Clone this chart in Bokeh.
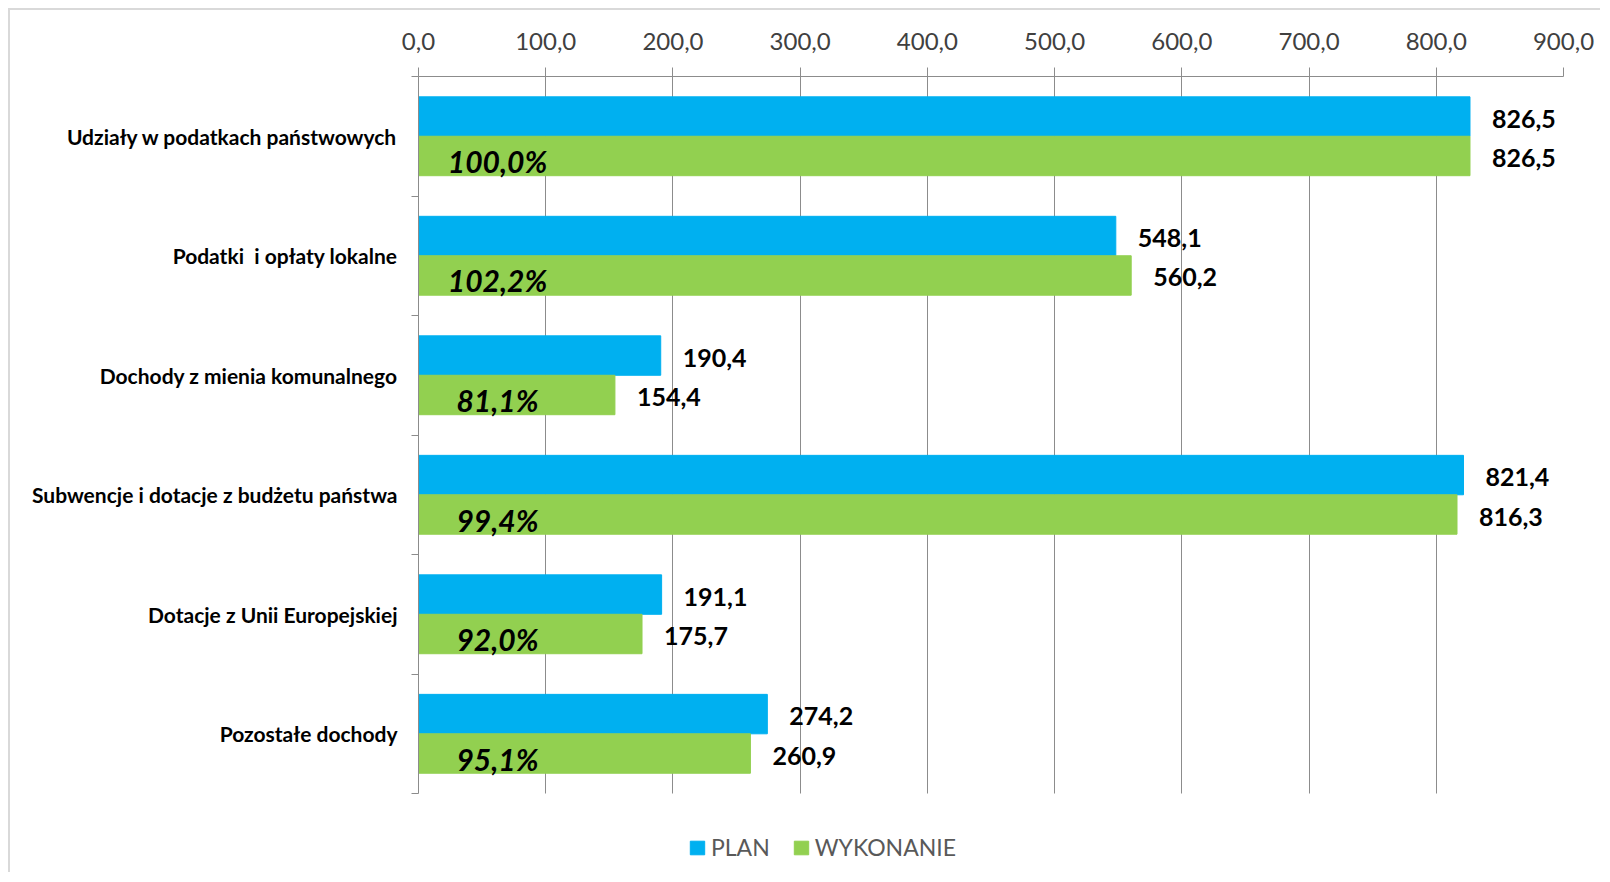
from bokeh.plotting import figure
from bokeh.models import ColumnDataSource, FixedTicker, Range1d, Legend, LegendItem
from bokeh.core.properties import value
from bokeh.transform import dodge
from bokeh.embed import file_html
from bokeh.resources import INLINE

# ---- data ----
categories = [
    "Udziały w podatkach państwowych",
    "Podatki\u00a0 i opłaty lokalne",
    "Dochody z mienia komunalnego",
    "Subwencje i dotacje z budżetu państwa",
    "Dotacje z Unii Europejskiej",
    "Pozostałe dochody",
]
plan = [826.5, 548.1, 190.4, 821.4, 191.1, 274.2]
wykonanie = [826.5, 560.2, 154.4, 816.3, 175.7, 260.9]
percent_labels = ["100,0%", "102,2%", "81,1%", "99,4%", "92,0%", "95,1%"]
x_ticks = [0, 100, 200, 300, 400, 500, 600, 700, 800, 900]
x_tick_labels = ["0,0", "100,0", "200,0", "300,0", "400,0", "500,0", "600,0", "700,0", "800,0", "900,0"]
series_names = ["PLAN", "WYKONANIE"]

# ---- styles ----
BLUE = "#00B0F0"
GREEN = "#92D050"
GRID = "#8c8c8c"
FONT = "Lato"
BAND_PX = 119.6          # pixel height of one category band
BOTTOM_PAD_PX = 81       # empty space below the last band (legend area)

def fmt(v):
    return f"{v:.1f}".replace(".", ",")

n = len(categories)
ypos = [i + 0.5 for i in range(n)]
src = ColumnDataSource(dict(
    y=ypos,
    plan=plan,
    wyk=wykonanie,
    plan_lbl=[fmt(v) for v in plan],
    wyk_lbl=[fmt(v) for v in wykonanie],
    pct=percent_labels,
))

p = figure(width=1592, height=864, output_backend="svg", toolbar_location=None,
           x_range=Range1d(0, 900), y_range=Range1d(n + BOTTOM_PAD_PX / BAND_PX, 0),
           x_axis_location="above",
           min_border_left=408, min_border_top=66, min_border_right=39, min_border_bottom=0)
p.styles = {"margin-top": "8px", "margin-left": "8px",
            "border-top": "2px solid #d9d9d9", "border-left": "2px solid #d9d9d9"}
p.outline_line_color = None
p.background_fill_color = "white"
p.border_fill_color = "white"

# vertical grid lines limited to the category bands
if "cross_bounds" in p.xgrid[0].properties():
    p.xgrid.ticker = FixedTicker(ticks=x_ticks)
    p.xgrid.cross_bounds = (0, n)
    p.xgrid.grid_line_color = GRID
else:
    p.xgrid.grid_line_color = None
    grid_src = ColumnDataSource(dict(x=x_ticks, y0=[0] * len(x_ticks), y1=[n] * len(x_ticks)))
    p.segment(x0="x", y0="y0", x1="x", y1="y1", source=grid_src,
              line_color=GRID, line_width=1, level="underlay")
p.ygrid.grid_line_color = None

BH = 0.33
r_plan = p.hbar(y=dodge("y", -BH / 2, range=p.y_range), left=0, right="plan", height=BH,
                fill_color=BLUE, line_color=BLUE, source=src)
r_wyk = p.hbar(y=dodge("y", BH / 2, range=p.y_range), left=0, right="wyk", height=BH,
               fill_color=GREEN, line_color=GREEN, source=src)

# value labels
p.text(x="plan", y=dodge("y", -BH / 2, range=p.y_range), text="plan_lbl", source=src,
       x_offset=22, y_offset=2, text_baseline="middle", text_align="left",
       text_font=value(FONT), text_font_style="bold", text_font_size="25px", text_color="black")
p.text(x="wyk", y=dodge("y", BH / 2, range=p.y_range), text="wyk_lbl", source=src,
       x_offset=22, y_offset=2, text_baseline="middle", text_align="left",
       text_font=value(FONT), text_font_style="bold", text_font_size="25px", text_color="black")
# percentage labels
p.text(x=0, y=dodge("y", BH / 2, range=p.y_range), text="pct", source=src,
       x_offset=79, y_offset=5, text_baseline="middle", text_align="center",
       text_font=value(FONT), text_font_style="bold italic", text_font_size="30px", text_color="black")

# x axis (top)
xa = p.xaxis[0]
xa.ticker = FixedTicker(ticks=x_ticks)
xa.major_label_overrides = {t: l for t, l in zip(x_ticks, x_tick_labels)}
xa.axis_line_color = GRID
xa.major_tick_line_color = GRID
xa.major_tick_out = 9
xa.major_tick_in = 0
xa.minor_tick_line_color = None
xa.major_label_standoff = 18
xa.major_label_text_font = FONT
xa.major_label_text_font_size = "24px"
xa.major_label_text_color = "#404040"

# y axis (left), ticks at category boundaries
ya = p.yaxis[0]
ya.ticker = FixedTicker(ticks=ypos, minor_ticks=list(range(n + 1)))
ya.bounds = (0, n)
ya.major_label_overrides = {y: c for y, c in zip(ypos, categories)}
ya.axis_line_color = GRID
ya.major_tick_line_color = None
ya.major_tick_out = 0
ya.major_tick_in = 0
ya.minor_tick_line_color = GRID
ya.minor_tick_out = 7
ya.minor_tick_in = 0
ya.major_label_standoff = 14
ya.major_label_text_font = FONT
ya.major_label_text_font_style = "bold"
ya.major_label_text_font_size = "21px"
ya.major_label_text_color = "black"

legend = Legend(items=[LegendItem(label=series_names[0], renderers=[r_plan]),
                       LegendItem(label=series_names[1], renderers=[r_wyk])],
                orientation="horizontal", location=(270, 13),
                padding=0, margin=0, spacing=22, label_standoff=5,
                glyph_width=18, glyph_height=17, label_height=20,
                label_text_font=FONT, label_text_font_size="23px", label_text_color="#595959",
                border_line_color=None, background_fill_alpha=0)
p.add_layout(legend, "center")

open("out.html", "w").write(file_html(p, INLINE))
